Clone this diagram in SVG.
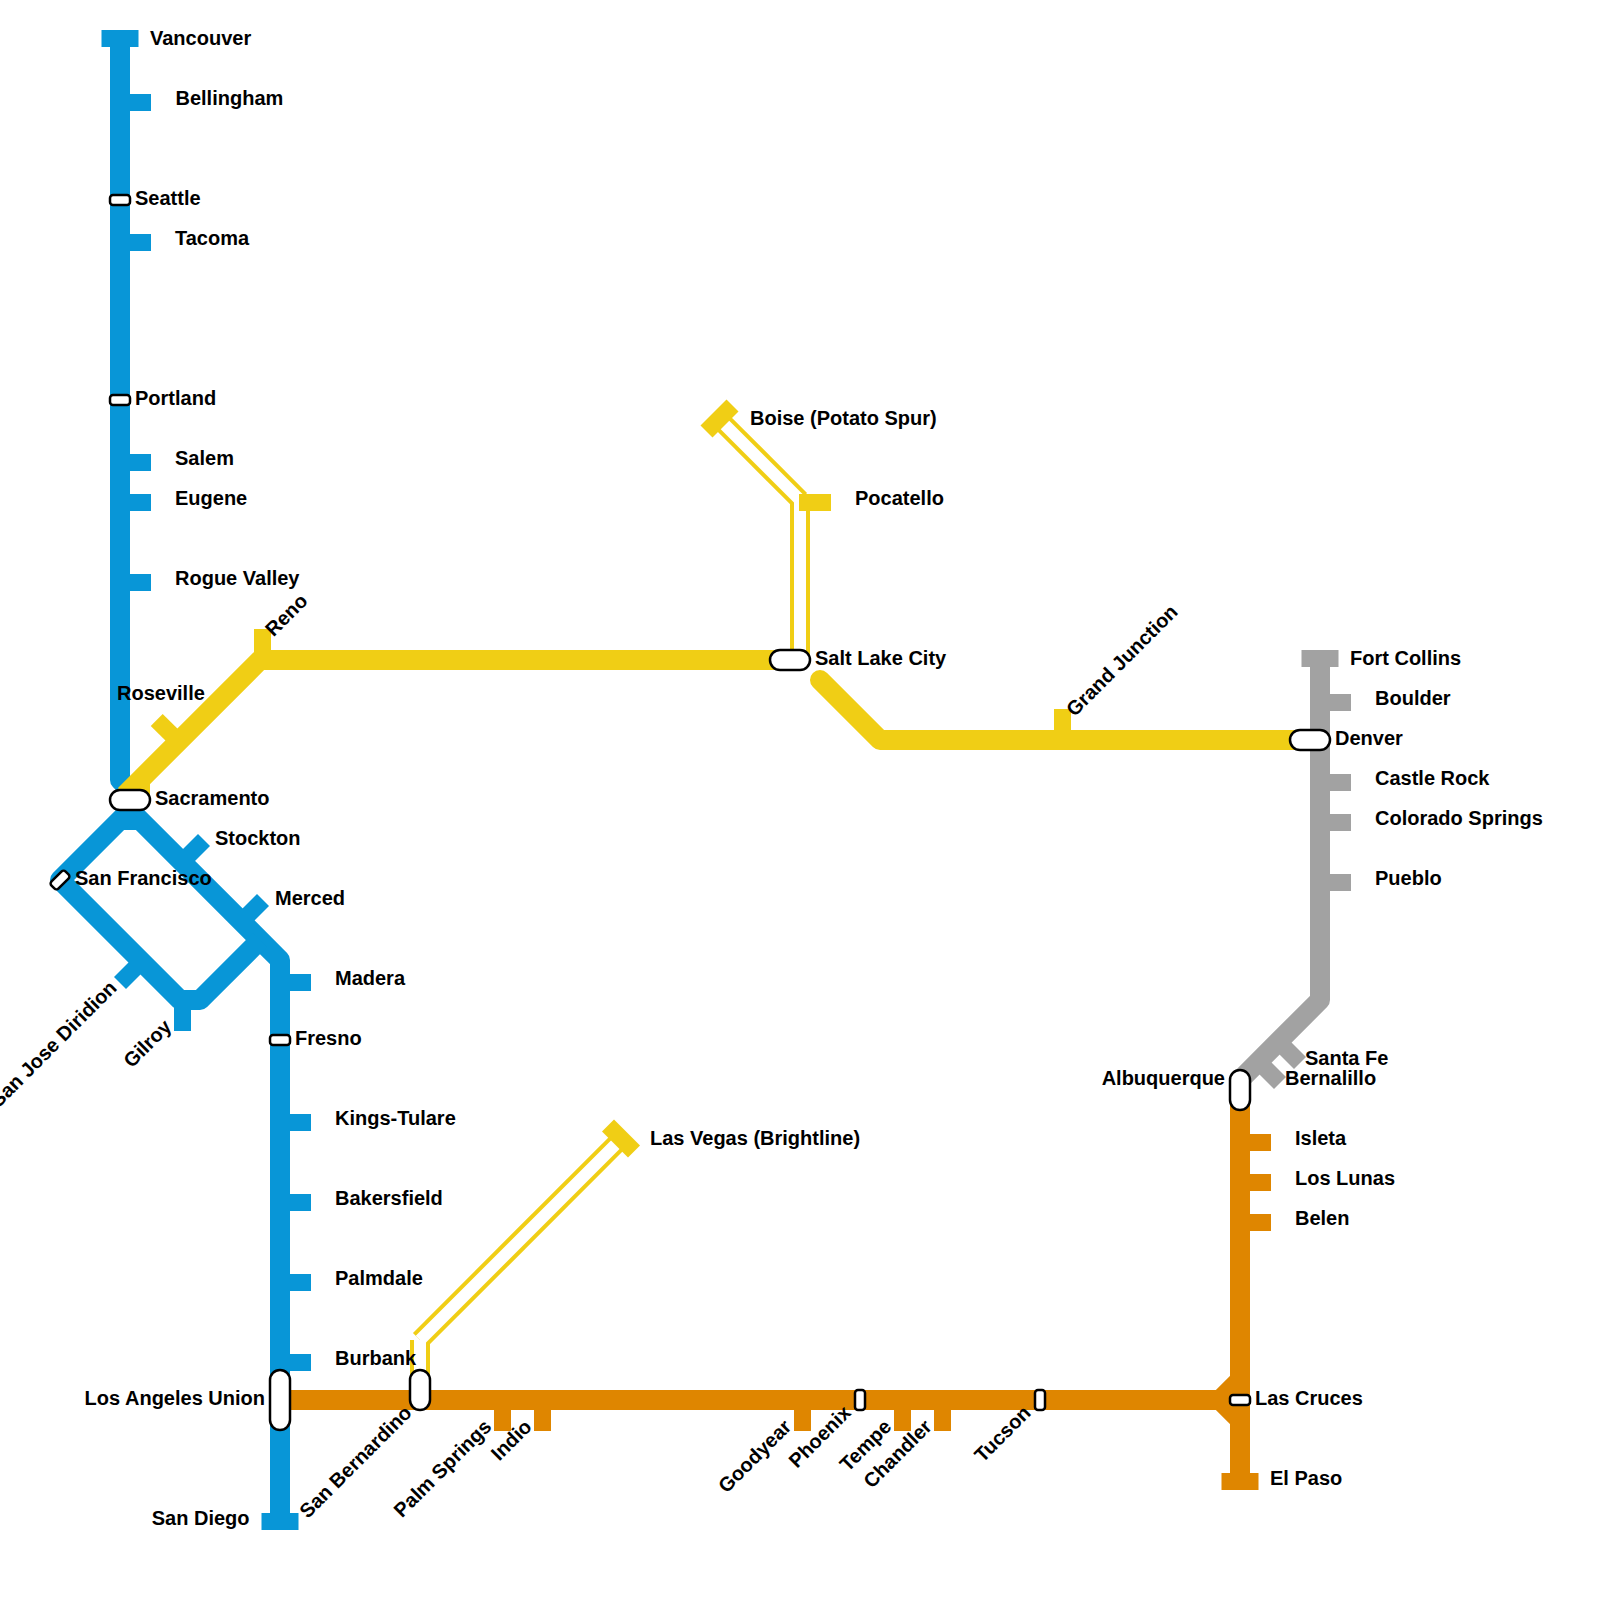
<svg xmlns="http://www.w3.org/2000/svg" width="1600" height="1600" viewBox="0 0 1600 1600">
<style>
.l{fill:none;stroke-width:20;stroke-linejoin:round}
.b{stroke:#0896d7}.y{stroke:#f0ce15}.o{stroke:#df8600}.g{stroke:#a2a2a2}
.hw{fill:none;stroke:#fff;stroke-width:12}
.hy{fill:none;stroke:#f0ce15;stroke-width:20}
.t{fill:none;stroke-width:17}
.e{fill:none;stroke-width:17}
.s{fill:#fff;stroke:#000;stroke-width:2.5}
text{font-family:"Liberation Sans",Arial,sans-serif;font-weight:700;font-size:20px;fill:#000}
.r{text-anchor:end}
</style>
<g id="connectors">
<path class="l b" d="M120 30V780L130 790V810"/>
<path class="l b" d="M120 820H140"/>
<path class="l b" d="M130 810L280 960V1530"/>
<path class="l b" d="M130 810L60 880L180 1000H200L260 940"/>
<path class="l y" d="M125 795L260 660H790"/>
<path class="l y" d="M140 800V780"/>
<path class="l y" style="stroke-linecap:round" d="M820 680L880 740H1310"/>
<path class="l g" d="M1320 650V1000L1240 1080"/>
<path class="l o" d="M1240 1090V1490M280 1400H1220" style="stroke-linejoin:miter"/>
<path class="l o" d="M1240 1380L1220 1400L1240 1420" style="stroke-linejoin:miter"/>
<path class="hy" d="M800 660V500"/><path class="hy" d="M800 500L720 420"/>
<path class="hw" d="M800 660V500"/><path class="hw" d="M800 500L720 420"/>
<path class="hy" d="M420 1380V1340"/><path class="hy" d="M420 1340L620 1140"/>
<path class="hw" d="M420 1380V1340"/><path class="hw" d="M420 1340L620 1140"/>
</g>
<g id="vancouver"><path class="e b" d="M101.500 38.500H138.500"/><text x="150" y="45">Vancouver</text></g>
<g id="bellingham"><path class="t b" d="M120 102.500H151"/><text x="175.500" y="105">Bellingham</text></g>
<g id="seattle"><rect class="s" x="110" y="195" width="20" height="10" rx="3"/><text x="135" y="205">Seattle</text></g>
<g id="tacoma"><path class="t b" d="M120 242.500H151"/><text x="175" y="245">Tacoma</text></g>
<g id="portland"><rect class="s" x="110" y="395" width="20" height="10" rx="3"/><text x="135" y="405">Portland</text></g>
<g id="salem"><path class="t b" d="M120 462.500H151"/><text x="175" y="465">Salem</text></g>
<g id="eugene"><path class="t b" d="M120 502.500H151"/><text x="175" y="505">Eugene</text></g>
<g id="rogue-valley"><path class="t b" d="M120 582.500H151"/><text x="175" y="585">Rogue Valley</text></g>
<g id="roseville"><path class="t y" d="M178.500 741.500L156.700 720"/><text x="117" y="700">Roseville</text></g>
<g id="reno"><path class="t y" d="M262.500 660V629"/><text transform="rotate(-45 273.500 637.500)" x="273.500" y="637.500">Reno</text></g>
<g id="sacramento"><rect class="s" x="110" y="790" width="40" height="20" rx="10"/><text x="155" y="805">Sacramento</text></g>
<g id="stockton"><path class="t b" d="M182 862L204 840"/><text x="215" y="845">Stockton</text></g>
<g id="san-francisco"><rect class="s" x="50" y="875" width="20" height="10" rx="3" transform="rotate(-45 60 880)"/><text x="75" y="885">San Francisco</text></g>
<g id="merced"><path class="t b" d="M241.500 921.500L263 900"/><text x="275" y="905">Merced</text></g>
<g id="san-jose"><path class="t b" d="M141.500 961.500L120 983"/><text class="r" transform="rotate(-45 118 989)" x="118" y="989">San Jose Diridion</text></g>
<g id="gilroy"><path class="t b" d="M182.500 1000V1031"/><text class="r" transform="rotate(-45 172.500 1028)" x="172.500" y="1028">Gilroy</text></g>
<g id="madera"><path class="t b" d="M280 982.500H311"/><text x="335" y="985">Madera</text></g>
<g id="fresno"><rect class="s" x="270" y="1035" width="20" height="10" rx="3"/><text x="295" y="1045">Fresno</text></g>
<g id="kings-tulare"><path class="t b" d="M280 1122.500H311"/><text x="335" y="1125">Kings-Tulare</text></g>
<g id="bakersfield"><path class="t b" d="M280 1202.500H311"/><text x="335" y="1205">Bakersfield</text></g>
<g id="palmdale"><path class="t b" d="M280 1282.500H311"/><text x="335" y="1285">Palmdale</text></g>
<g id="burbank"><path class="t b" d="M280 1362.500H311"/><text x="335" y="1365">Burbank</text></g>
<g id="los-angeles"><rect class="s" x="270" y="1370" width="20" height="60" rx="10"/><text class="r" x="265" y="1405">Los Angeles Union</text></g>
<g id="san-diego"><path class="e b" d="M261.500 1521.500H298.500"/><text class="r" x="249.500" y="1525">San Diego</text></g>
<g id="san-bernardino"><rect class="s" x="410" y="1370" width="20" height="40" rx="10"/><text class="r" transform="rotate(-45 413 1414)" x="413" y="1414">San Bernardino</text></g>
<g id="palm-springs"><path class="t o" d="M502.500 1400V1431"/><text class="r" transform="rotate(-45 492.500 1428)" x="492.500" y="1428">Palm Springs</text></g>
<g id="indio"><path class="t o" d="M542.500 1400V1431"/><text class="r" transform="rotate(-45 533 1428)" x="533" y="1428">Indio</text></g>
<g id="goodyear"><path class="t o" d="M802.500 1400V1431"/><text class="r" transform="rotate(-45 792.500 1428)" x="792.500" y="1428">Goodyear</text></g>
<g id="phoenix"><rect class="s" x="855" y="1390" width="10" height="20" rx="3"/><text class="r" transform="rotate(-45 852 1414)" x="852" y="1414">Phoenix</text></g>
<g id="tempe"><path class="t o" d="M902.500 1400V1431"/><text class="r" transform="rotate(-45 892.500 1428)" x="892.500" y="1428">Tempe</text></g>
<g id="chandler"><path class="t o" d="M942.500 1400V1431"/><text class="r" transform="rotate(-45 933 1428)" x="933" y="1428">Chandler</text></g>
<g id="tucson"><rect class="s" x="1035" y="1390" width="10" height="20" rx="3"/><text class="r" transform="rotate(-45 1032 1414)" x="1032" y="1414">Tucson</text></g>
<g id="las-cruces"><rect class="s" x="1230" y="1395" width="20" height="10" rx="3"/><text x="1255" y="1405">Las Cruces</text></g>
<g id="el-paso"><path class="e o" d="M1221.500 1481.500H1258.500"/><text x="1270" y="1485">El Paso</text></g>
<g id="belen"><path class="t o" d="M1240 1222.500H1271"/><text x="1295" y="1225">Belen</text></g>
<g id="los-lunas"><path class="t o" d="M1240 1182.500H1271"/><text x="1295" y="1185">Los Lunas</text></g>
<g id="isleta"><path class="t o" d="M1240 1142.500H1271"/><text x="1295" y="1145">Isleta</text></g>
<g id="albuquerque"><rect class="s" x="1230" y="1070" width="20" height="40" rx="10"/><text class="r" x="1225" y="1085">Albuquerque</text></g>
<g id="bernalillo"><path class="t g" d="M1258.500 1061.500L1280 1083"/><text x="1285" y="1085">Bernalillo</text></g>
<g id="santa-fe"><path class="t g" d="M1278.500 1041.500L1300 1063"/><text x="1305" y="1065">Santa Fe</text></g>
<g id="pueblo"><path class="t g" d="M1320 882.500H1351"/><text x="1375" y="885">Pueblo</text></g>
<g id="colorado-springs"><path class="t g" d="M1320 822.500H1351"/><text x="1375" y="825">Colorado Springs</text></g>
<g id="castle-rock"><path class="t g" d="M1320 782.500H1351"/><text x="1375" y="785">Castle Rock</text></g>
<g id="denver"><rect class="s" x="1290" y="730" width="40" height="20" rx="10"/><text x="1335" y="745">Denver</text></g>
<g id="boulder"><path class="t g" d="M1320 702.500H1351"/><text x="1375" y="705">Boulder</text></g>
<g id="fort-collins"><path class="e g" d="M1301.500 658.500H1338.500"/><text x="1350" y="665">Fort Collins</text></g>
<g id="grand-junction"><path class="t y" d="M1062.500 740V709"/><text transform="rotate(-45 1074.500 717.500)" x="1074.500" y="717.500">Grand Junction</text></g>
<g id="salt-lake"><rect class="s" x="770" y="650" width="40" height="20" rx="10"/><text x="815" y="665">Salt Lake City</text></g>
<g id="pocatello"><path class="t y" d="M799 502.500H831"/><text x="855" y="505">Pocatello</text></g>
<g id="boise"><path class="e y" d="M706.500 431.500L732.500 405.500"/><text x="750" y="425">Boise (Potato Spur)</text></g>
<g id="las-vegas"><path class="e y" d="M608 1125.500L634 1151.500"/><text x="650" y="1145">Las Vegas (Brightline)</text></g>
</svg>
